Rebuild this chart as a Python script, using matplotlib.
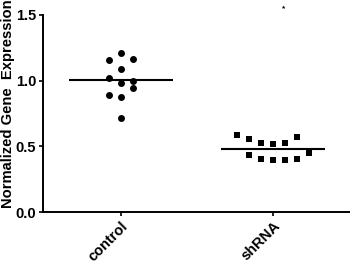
import matplotlib
matplotlib.use("Agg")
import matplotlib.pyplot as plt
import numpy as np

plt.rcParams['font.family'] = ['Liberation Sans', 'DejaVu Sans']
plt.rcParams['font.weight'] = 'bold'

categories = ["control", "shRNA"]
control_values = [1.209, 1.168, 1.158, 1.087, 1.018, 1.000, 0.980, 0.944, 0.889, 0.874, 0.716]
shrna_values = [0.589, 0.556, 0.528, 0.520, 0.528, 0.569, 0.436, 0.404, 0.396, 0.396, 0.406, 0.447]
# column slots of the scatter layout (Prism-style column scatter)
control_slots = [0, 1, -1, 0, -1, 1, 0, 1, -1, 0, 0]
shrna_slots = [-3, -2, -1, 0, 1, 2, -2, -1, 0, 1, 2, 3]
y_ticks = [0.0, 0.5, 1.0, 1.5]
y_label = "Normalized Gene  Expression"
annotation = "*"

fig = plt.figure(figsize=(3.5, 2.64), dpi=100)
ax = fig.add_axes([43/350, 1-212/264, 1-43/350, (212-15)/264])

step = 0.078
groups = [(control_values, control_slots, 'o', 5.0), (shrna_values, shrna_slots, 's', 5.0)]
for i, (vals, slots, mk, ms) in enumerate(groups):
    xs = i + step*np.array(slots)
    ax.plot(xs, vals, linestyle='none', marker=mk, markersize=ms, color='black',
            markeredgewidth=0, clip_on=False)
    m = np.mean(vals)
    ax.plot([i-0.34, i+0.34], [m, m], color='black', lw=1.5, solid_capstyle='butt')

ax.set_xlim(-0.513, 1.507)
ax.set_ylim(0, 1.5)
ax.set_yticks(y_ticks)
ax.set_yticklabels([f"{v:.1f}" for v in y_ticks], fontsize=10.5, fontweight='bold')
ax.set_xticks(range(len(categories)))
ax.set_xticklabels(categories, rotation=45, ha='right', rotation_mode='anchor',
                   fontsize=10.5, fontweight='bold')
for s in ['top', 'right']:
    ax.spines[s].set_visible(False)
for s in ['left', 'bottom']:
    ax.spines[s].set_linewidth(1.4)
ax.tick_params(axis='both', length=3, width=1.2, pad=2)

ax.text(1.072, 1.546, annotation, fontsize=6, ha='center', va='center', clip_on=False)
fig.text(8/350, 1-104/264, y_label, rotation=90, fontsize=10.6, fontweight='bold',
         ha='center', va='center')

fig.savefig("out.png", dpi=100)
